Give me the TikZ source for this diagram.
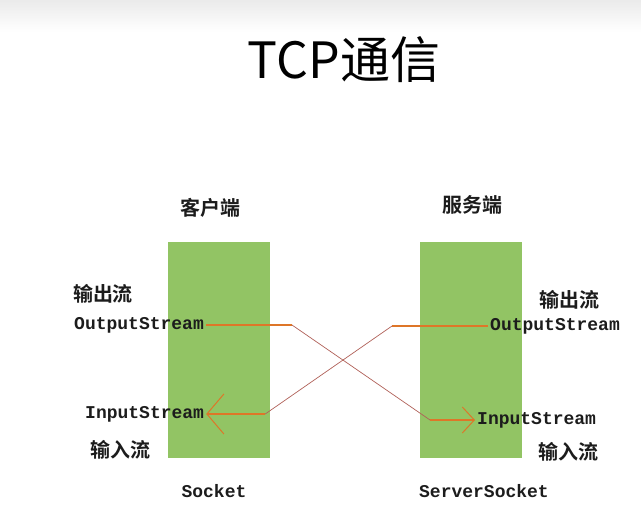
\documentclass[tikz,border=0pt]{standalone}
\usepackage{fontspec}
\usepackage{tikz}
\usepackage{xcolor}
\usetikzlibrary{arrows.meta, positioning, calc}
\newfontfamily\cjk{Noto Sans CJK SC}[BoldFont={Noto Sans CJK SC Bold}]
\newfontfamily\code{Liberation Mono}
\definecolor{cSock}{RGB}{146,196,100}
\definecolor{cFlow}{RGB}{222,118,40}
\definecolor{cCross}{RGB}{176,96,88}
\definecolor{cText}{RGB}{28,28,28}
\tikzset{
	sockbox/.style  ={rectangle, draw=none, fill=cSock, minimum width=102pt, minimum height=216pt, inner sep=0pt},
	side/.style     ={font=\cjk\bfseries\fontsize{20}{22}\selectfont, text=cText, inner sep=1pt},
	stream/.style   ={font=\code\bfseries\fontsize{18}{20}\selectfont, text=cText, inner sep=2pt},
	hline/.style    ={draw=cFlow, line width=1.6pt},
	xline/.style    ={draw=cCross, line width=0.7pt},
	flowarrow/.style={hline, -{Straight Barb[length=17pt, width=40pt, line width=1pt]}},
}

\begin{document}
\begin{tikzpicture}[x=1pt, y=-1pt]
					\useasboundingbox (0,0) rectangle (641,523);
					\shade[top color=black!8, bottom color=white] (0,0) rectangle (641,32);
					\node[font=\cjk\fontsize{50}{56}\selectfont, text=black, inner sep=0pt] (title) at (344,60) {TCP通信};
					% sockets
					\node[sockbox] (cli) at (219,350) {};
					\node[sockbox] (srv) at (471,350) {};
					\node[side] (cliname) at (210,208) {客户端};
					\node[side] (srvname) at (472,205) {服务端};
					\node[stream] (clisock) at (214,491) {Socket};
					\node[stream] (srvsock) at (484,491) {ServerSocket};
					% streams of the client
					\node[side] (cliouttxt) at (103,294) {输出流};
					\node[stream, anchor=west] (cliout) at (72,325) {OutputStream};
					\node[stream, anchor=west] (cliin) at (83,414) {InputStream};
					\node[side] (cliintxt) at (120,450) {输入流};
					% streams of the server
					\node[side] (srvouttxt) at (569,300) {输出流};
					\node[stream, anchor=west] (srvout) at (488,326) {OutputStream};
					\node[stream, anchor=west] (srvin) at (475,420) {InputStream};
					\node[side] (srvintxt) at (568,452) {输入流};
					% the two connections
					\coordinate (ca) at ($(cliout.east)+(86,0)$);
					\coordinate (cb) at ($(srvin.west)+(-45,0)$);
					\coordinate (sa) at ($(srvout.west)+(-96,0)$);
					\coordinate (sb) at ($(cliin.east)+(59,0)$);
					\draw[hline] (cliout.east) -- (ca);
					\draw[xline] (ca) -- (cb);
					\draw[hline, -{Straight Barb[length=12pt, width=26pt, line width=1pt]}] (cb) -- (srvin.west);
					\draw[hline] (srvout.west) -- (sa);
					\draw[xline] (sa) -- (sb);
					\draw[flowarrow] (sb) -- (cliin.east);
				\end{tikzpicture}
\end{document}
